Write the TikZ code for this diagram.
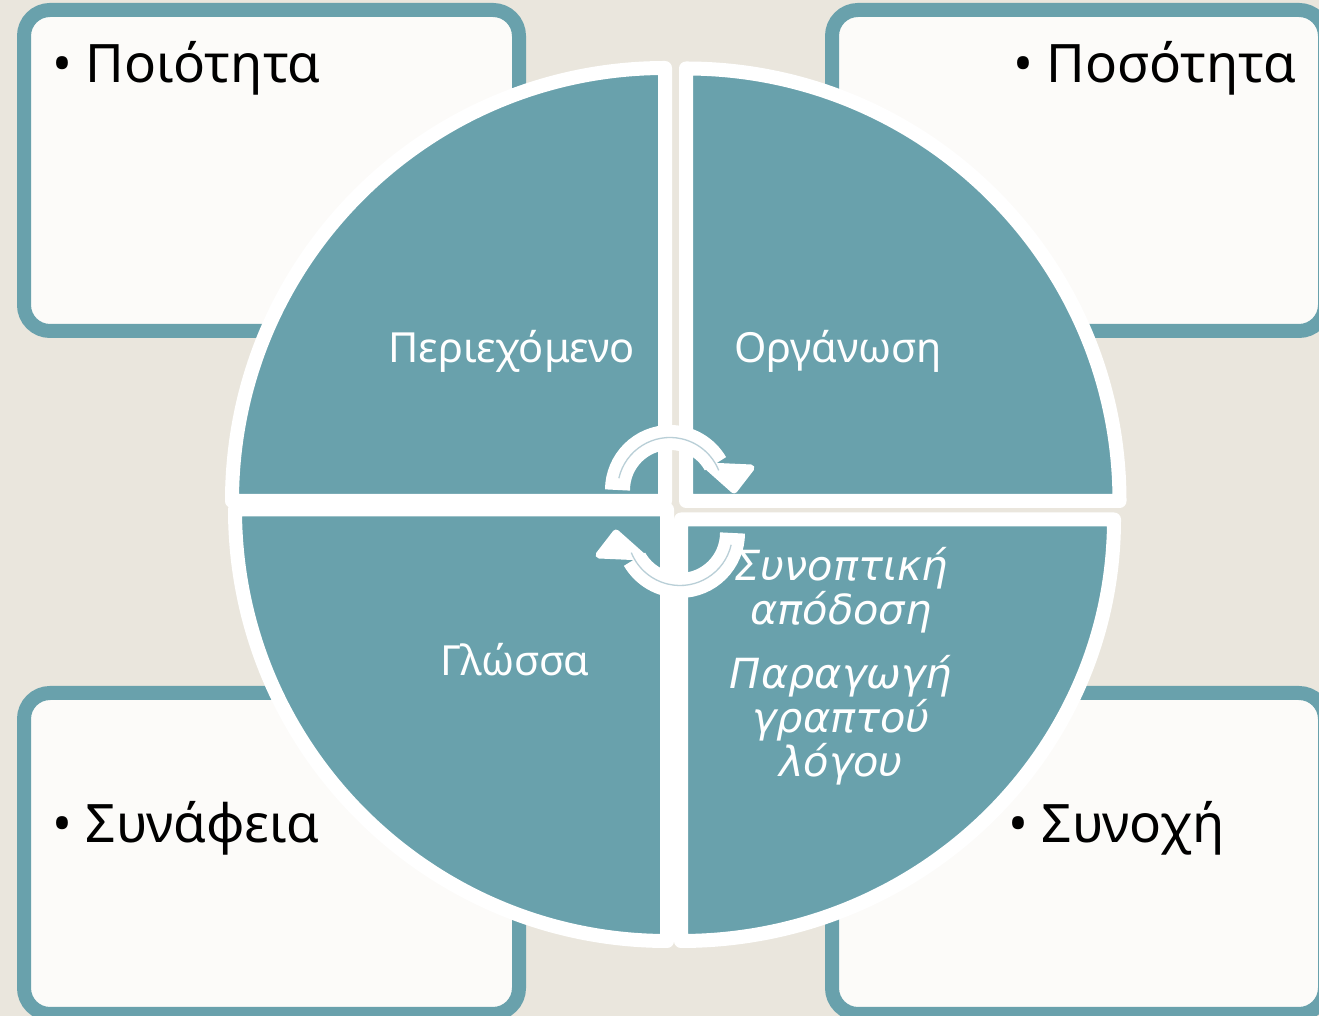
\documentclass[tikz,border=0pt]{standalone}
\usepackage{fontspec}
\setmainfont{Noto Sans}
\newfontfamily\notefont{DejaVu Sans}
\definecolor{tealq}{HTML}{69A1AC}
\definecolor{sand}{HTML}{EAE6DD}
\definecolor{paper}{HTML}{FCFBF9}
\definecolor{hair}{HTML}{B9CFD7}
\tikzset{
  card/.style={draw=tealq, fill=paper, line width=14pt, rounded corners=26pt},
  slice/.style={fill=tealq, draw=white, line width=14pt, line join=round},
  cardtext/.style={font=\fontsize{53}{64}\selectfont, inner sep=0pt},
  slicetext/.style={font=\fontsize{41.5}{48}\selectfont, text=white, inner sep=0pt},
  slicenote/.style={font=\notefont\itshape\fontsize{41.5}{44}\selectfont, text=white, inner sep=0pt, align=center},
  turnbody/.style={draw=white, line width=25pt},
  turnhead/.style={fill=white, draw=white, line width=7pt, line join=round},
  hairline/.style={draw=hair, line width=1.3pt}
}

\begin{document}
\begin{tikzpicture}[x=1pt,y=1pt]
\useasboundingbox (0,0) rectangle (1319,1016);
\clip (0,0) rectangle (1319,1016);
\fill[sand] (0,0) rectangle (1319,1016);

% four cards
\draw[card] (24,685) rectangle (519,1006);
\draw[card] (832,685) rectangle (1325,1006);
\draw[card] (24,2) rectangle (519,323);
\draw[card] (832,2) rectangle (1325,323);
\node[cardtext, anchor=base west] (quality) at (52,933) {• Ποιότητα};
\node[cardtext, anchor=base east] (quantity) at (1297,933) {• Ποσότητα};
\node[cardtext, anchor=base west] (relevance) at (52,173) {• Συνάφεια};
\node[cardtext, anchor=base west] (cohesion) at (1008,173) {• Συνοχή};

% the circle
\draw[slice] (665,515) -- (232,515) arc[start angle=180, end angle=90, radius=433] -- cycle;
\draw[slice] (686,515) -- (686,947.5) arc[start angle=90, end angle=0, x radius=433.5, y radius=432.5] -- cycle;
\draw[slice] (667,506.5) -- (235,506.5) arc[start angle=180, end angle=270, x radius=432, y radius=431.5] -- cycle;
\draw[slice] (681,496.5) -- (1114,496.5) arc[start angle=0, end angle=-90, x radius=433, y radius=421.5] -- cycle;

\node[slicetext, anchor=base] (content) at (511.5,653) {Περιεχόμενο};
\node[slicetext, anchor=base] (organisation) at (838,653) {Οργάνωση};
\node[slicetext, anchor=base] (language) at (515,340) {Γλώσσα};
\node[slicenote, anchor=base] (summary) at (841,391) {Συνοπτική\\απόδοση};
\node[slicenote, anchor=base] (writing) at (841,239) {Παραγωγή\\γραπτού\\λόγου};

% cycle arrows
\foreach \r in {0,180}{
  \begin{scope}[rotate around={\r:(675,504.5)}]
    \draw[turnbody] (670,526) ++(180:52.5) arc[start angle=180, end angle=30, radius=52.5];
    \filldraw[turnhead] (707,550) -- (751,548) -- (734,526) -- cycle;
    \draw[hairline] (670,526) ++(167:52.5) arc[start angle=167, end angle=22, radius=52.5];
  \end{scope}
}
\end{tikzpicture}
\end{document}
